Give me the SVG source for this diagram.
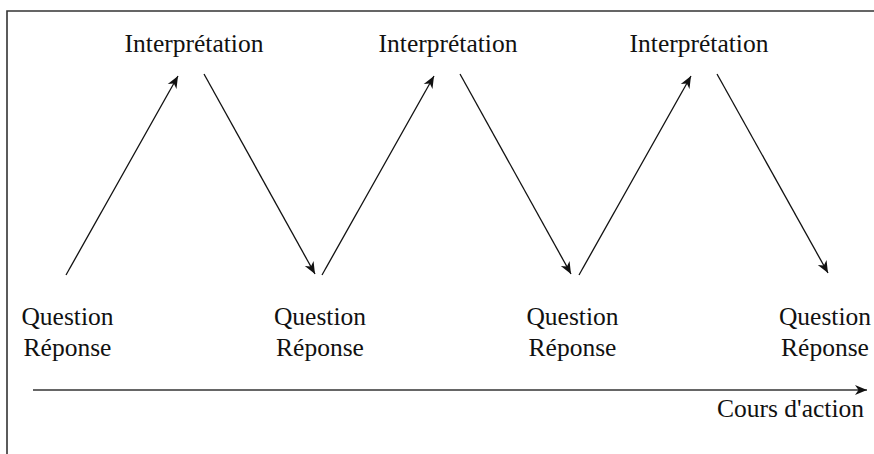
<svg xmlns="http://www.w3.org/2000/svg" width="874" height="454" viewBox="0 0 874 454">
<style>
text{font-family:"Liberation Serif","Times New Roman",serif;font-size:25.5px;fill:#111;text-anchor:middle}
.c{stroke:#111;stroke-width:1.3;fill:none;marker-end:url(#ah)}
.frame{stroke:#333;stroke-width:1.6;fill:none}
</style>
<defs>
<marker id="ah" markerUnits="userSpaceOnUse" markerWidth="14" markerHeight="12" refX="12" refY="5" orient="auto" overflow="visible">
<path d="M0,0 L12,5 L0,10 L3.5,5 z" fill="#111"/>
</marker>
</defs>
<rect width="874" height="454" fill="#fff"/>
<path class="frame" d="M874,11 H7 V454"/>
<g id="connectors">
<line class="c" x1="66" y1="275" x2="178" y2="76"/>
<line class="c" x1="204" y1="74" x2="315" y2="274"/>
<line class="c" x1="322" y1="275" x2="434" y2="76"/>
<line class="c" x1="460" y1="74" x2="571" y2="274"/>
<line class="c" x1="579" y1="275" x2="691" y2="76"/>
<line class="c" x1="717" y1="74" x2="828" y2="273"/>
<line class="c" x1="33" y1="390" x2="867" y2="390" style="stroke:#333;stroke-width:1.6"/>
</g>
<g id="interp1"><text x="194" y="52">Interprétation</text></g>
<g id="interp2"><text x="448" y="52">Interprétation</text></g>
<g id="interp3"><text x="699" y="52">Interprétation</text></g>
<g id="qr1"><text x="67.5" y="325">Question</text><text x="67.5" y="356">Réponse</text></g>
<g id="qr2"><text x="320" y="325">Question</text><text x="320" y="356">Réponse</text></g>
<g id="qr3"><text x="572.5" y="325">Question</text><text x="572.5" y="356">Réponse</text></g>
<g id="qr4"><text x="825" y="325">Question</text><text x="825" y="356">Réponse</text></g>
<g id="axis-label"><text x="864" y="417" style="text-anchor:end">Cours d'action</text></g>
</svg>
